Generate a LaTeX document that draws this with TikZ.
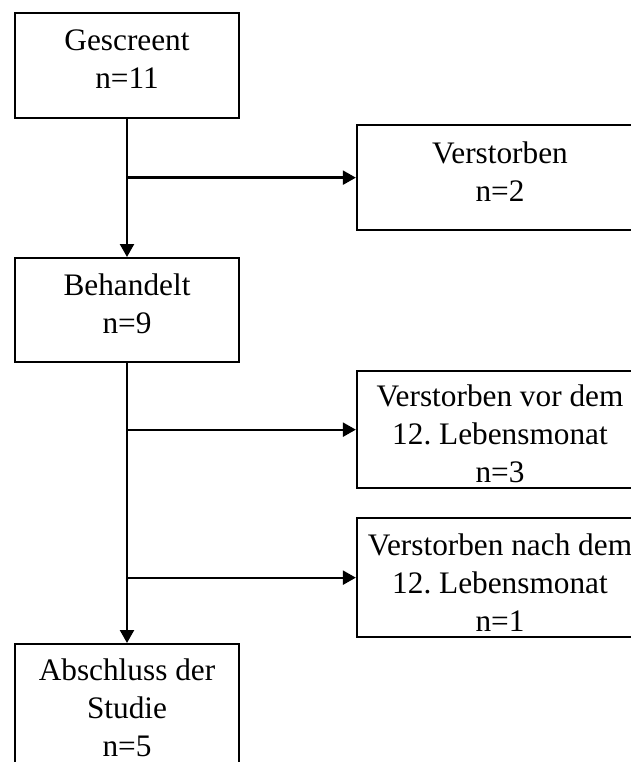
\documentclass[tikz,border=0pt]{standalone}
\usepackage{fontspec}
\setmainfont{Liberation Serif}
\usetikzlibrary{arrows.meta}
\begin{document}
\frenchspacing
\begin{tikzpicture}[x=1pt,y=-1pt,
  flowbox/.style={draw, line width=2.3pt, inner sep=0pt, anchor=north,
    font=\fontsize{31.3}{38}\selectfont\frenchspacing},
  lbox/.style={flowbox, minimum width=224pt},
  rbox/.style={flowbox, minimum width=286pt},
  arr/.style={line width=2.3pt, -{Triangle[length=13pt,width=14pt]}}]
\useasboundingbox (0,0) rectangle (630,762);
% left column
\node[lbox, text height=37pt, text depth=68pt] (g) at (127,12)
  {\begin{tabular}[t]{@{}c@{}}Gescreent\\n=11\end{tabular}};
\node[lbox, text height=37pt, text depth=67pt] (beh) at (127,257)
  {\begin{tabular}[t]{@{}c@{}}Behandelt\\n=9\end{tabular}};
\node[lbox, text height=36pt, text depth=91pt] (abs) at (127,643)
  {\begin{tabular}[t]{@{}c@{}}Abschluss der\\Studie\\n=5\end{tabular}};
% right column
\node[rbox, text height=38pt, text depth=67pt] (v1) at (500,124)
  {\begin{tabular}[t]{@{}c@{}}Verstorben\\n=2\end{tabular}};
\node[rbox, text height=35pt, text depth=82pt] (v2) at (500,370)
  {\begin{tabular}[t]{@{}c@{}}Verstorben vor dem\\12. Lebensmonat\\n=3\end{tabular}};
\node[rbox, text height=37pt, text depth=82pt] (v3) at (500,517)
  {\begin{tabular}[t]{@{}c@{}}Verstorben nach dem\\12. Lebensmonat\\n=1\end{tabular}};
% connectors
\coordinate (j1) at (g.south |- v1.west);
\coordinate (j2) at (beh.south |- v2.west);
\coordinate (j3) at (beh.south |- v3.west);
\draw[arr] (g.south) -- (beh.north);
\draw[arr] (j1) -- (v1.west);
\draw[arr] (beh.south) -- (abs.north);
\draw[arr] (j2) -- (v2.west);
\draw[arr] (j3) -- (v3.west);
\end{tikzpicture}
\end{document}
